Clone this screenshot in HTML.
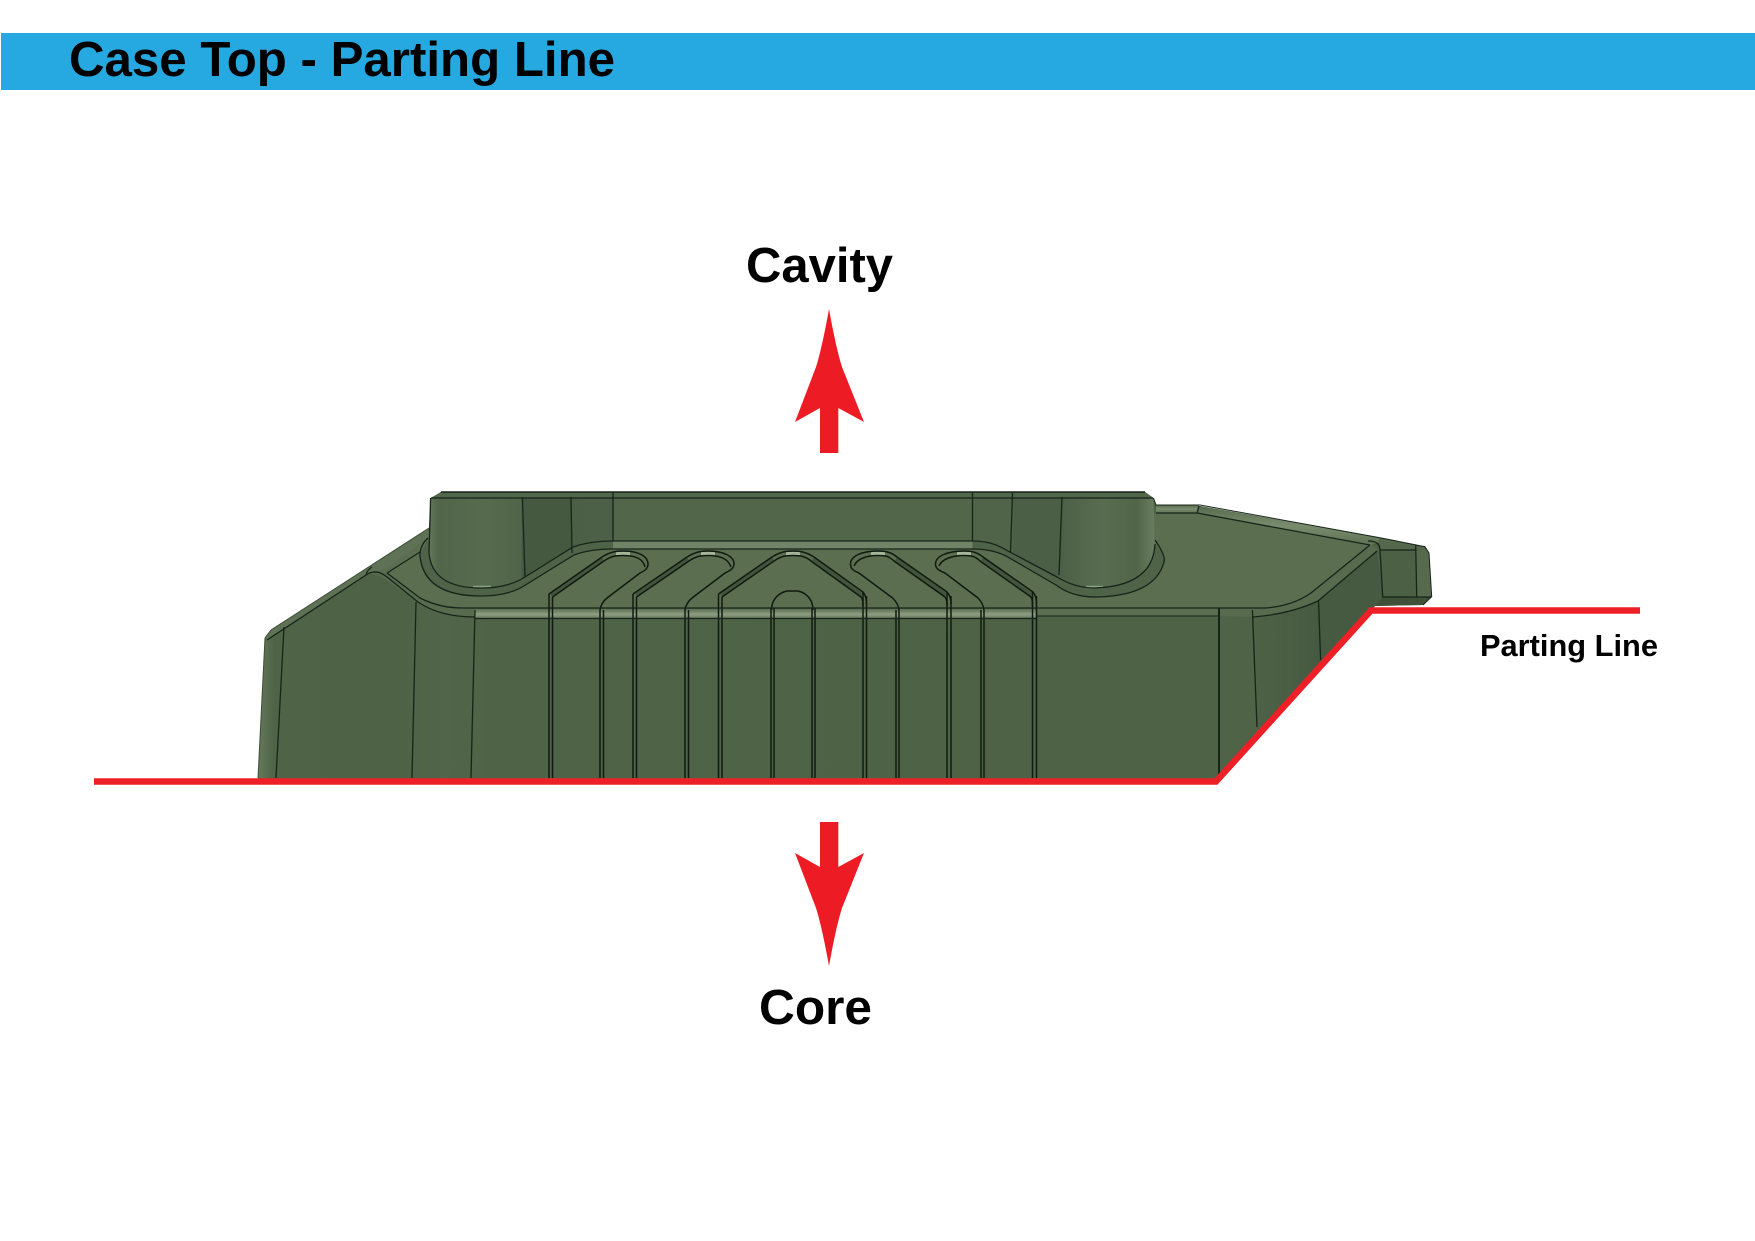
<!DOCTYPE html>
<html>
<head>
<meta charset="utf-8">
<style>
html,body{margin:0;padding:0;background:#fff;width:1755px;height:1241px;overflow:hidden}
svg{display:block}
text{font-family:"Liberation Sans",Arial,sans-serif;font-weight:bold;fill:#000}
.l{fill:none;stroke:#17241a;stroke-width:1.3}
.t{fill:none;stroke:#0f1a10;stroke-width:1.5}
</style>
</head>
<body>
<svg width="1755" height="1241" viewBox="0 0 1755 1241" xmlns="http://www.w3.org/2000/svg">
<defs>
<linearGradient id="bossL" x1="0" x2="1" y1="0" y2="0">
<stop offset="0" stop-color="#64785a"/><stop offset=".05" stop-color="#51664a"/><stop offset=".3" stop-color="#566b4e"/><stop offset=".5" stop-color="#506549"/><stop offset=".505" stop-color="#455941"/><stop offset=".77" stop-color="#455941"/><stop offset=".775" stop-color="#4a5f46"/><stop offset="1" stop-color="#4c6047"/>
</linearGradient>
<linearGradient id="bossR" x1="0" x2="1" y1="0" y2="0">
<stop offset="0" stop-color="#4f6449"/><stop offset=".22" stop-color="#4f6449"/><stop offset=".225" stop-color="#4a5f46"/><stop offset=".49" stop-color="#4a5f46"/><stop offset=".5" stop-color="#4c6147"/><stop offset=".71" stop-color="#586d50"/><stop offset=".9" stop-color="#516649"/><stop offset="1" stop-color="#6a7d60"/>
</linearGradient>
<linearGradient id="front" x1="0" x2="1" y1="0" y2="0">
<stop offset="0" stop-color="#64785a"/><stop offset=".014" stop-color="#4f6347"/><stop offset=".12" stop-color="#4e6246"/><stop offset=".16" stop-color="#51654a"/><stop offset=".2" stop-color="#4f6347"/><stop offset="1" stop-color="#4e6246"/>
</linearGradient>
<linearGradient id="band" x1="0" x2="0" y1="0" y2="1">
<stop offset="0" stop-color="#5d7052"/><stop offset=".55" stop-color="#8e9e83"/><stop offset="1" stop-color="#5a6d50"/>
</linearGradient>
<linearGradient id="rsd" x1="0" x2="1" y1="0" y2="0">
<stop offset="0" stop-color="#4e6246"/><stop offset="1" stop-color="#455a41"/>
</linearGradient>
<linearGradient id="rim" x1="0" x2="0" y1="0" y2="1">
<stop offset="0" stop-color="#566a4c"/><stop offset=".5" stop-color="#7a8c6e"/><stop offset="1" stop-color="#5f7254"/>
</linearGradient>
</defs>

<!-- banner -->
<rect x="1" y="33" width="1754" height="57" fill="#25a9e0"/>
<text x="69" y="76" font-size="49" textLength="546" lengthAdjust="spacingAndGlyphs">Case Top - Parting Line</text>

<!-- labels -->
<text x="746" y="282" font-size="48.7" textLength="147" lengthAdjust="spacingAndGlyphs">Cavity</text>
<text x="759" y="1024" font-size="48.7" textLength="113" lengthAdjust="spacingAndGlyphs">Core</text>
<text x="1480" y="656" font-size="30.8" textLength="178" lengthAdjust="spacingAndGlyphs">Parting Line</text>

<!-- arrows -->
<path fill="#ed1c24" d="M829,309 Q836,348 842,367 L864,422 L838.3,408 V453 H820 V408 L795,422 L816,367 Q822,348 829,309 Z"/>
<path fill="#ed1c24" d="M829,966 Q836,927 842,908 L864,853 L838.3,867 V822 H820 V867 L795,853 L816,908 Q822,927 829,966 Z"/>

<!-- body silhouette -->
<path fill="url(#front)" d="M258,780 L265,638 L271,630 L429,528 L430.6,498 L441,492 L1145,492 L1153.5,498 L1156,505 L1200,506 L1380,537.7 L1425,546.7 L1429,553 L1431.7,596.7 L1423,605 L1375,606 L1217,780 Z"/>

<!-- right side faces -->
<path fill="#4f6347" d="M1219,616 H1253 L1258,728 L1219,775 Z"/>
<path fill="url(#rsd)" d="M1253,617 Q1290,614 1318,601 L1321,664 L1258,730 Z"/>
<path fill="#455a41" d="M1318,601 L1377,551 L1383,597 L1375,606 L1321,664 Z"/>

<!-- end tab -->
<path fill="#4c6046" d="M1380,550 H1416 L1417,597 H1383 Z"/>
<path fill="#576a4e" d="M1416,550 L1429,553 L1431.7,597 H1417 Z"/>
<path fill="#3f5139" d="M1383,597 H1431 L1423,605 L1375,606 Z"/>

<!-- top face -->
<path fill="#5c6e50" d="M429,530 L372,568 L387,573 L420,598 Q440,608 462,608 H1266 Q1292,606 1311,593 L1372,545 L1197,513 H1156 L1130,520 H430 Z"/>

<!-- lit rim, upper right -->
<path fill="url(#rim)" d="M1156,505 H1199 L1197,513 H1156 Z"/>
<path fill="url(#rim)" d="M1200,506 L1380,537.7 L1378,543 L1371,545 L1197,513 Z"/>
<path fill="#55684b" d="M1380,537.7 L1425,546.7 L1429,553 L1415,550 H1380 Z"/>
<!-- lit rim, right fillet -->
<path fill="#586b4e" d="M1372,545 L1311,593 Q1292,606 1266,608 L1219,608 V616 L1253,617 Q1290,614 1318,601 L1378,550 Z"/>

<!-- left chamfer rim -->
<path fill="#5f7255" d="M271,630 L429,528 L431,536 L387,568 L366,575 L267,640 L265,638 Z"/>
<path fill="#586b4e" d="M366,575 Q376,568 387,573 L420,598 Q440,608 462,608 L475,609 V617 Q440,617 418,602 L382,577 Q374,573 366,575 Z"/>

<!-- front band -->
<rect x="475" y="609" width="561" height="10" fill="url(#band)"/>
<rect x="1036" y="608" width="183" height="8" fill="#5c6e50"/>

<!-- back wall -->
<rect x="613" y="498" width="360" height="43" fill="#526749"/>
<path fill="#52664a" d="M441,492 H1145 L1153.5,498 H431 Z"/>
<rect x="613" y="541" width="360" height="8" fill="#728467"/>

<!-- bosses -->
<path fill="url(#bossL)" d="M430.6,498 L429,553 Q432,588 481,588 Q508,588 525,577 L573,547 Q590,541 613,541 V498 Z"/>
<path fill="url(#bossR)" d="M972.5,498 V541 Q992,541 1006,550 L1057,577 Q1075,588 1095,588 Q1153,586 1155,555 L1153.5,498 Z"/>
<!-- boss fillet bands -->
<path fill="#4f6348" d="M429,553 Q432,588 481,588 Q508,588 525,577 L573,547 Q590,541 613,541 V549 Q590,549 574,555 L527,584 Q510,596 481,596 Q420,594 420,556 L428,538 Z"/>
<path fill="#4f6348" d="M972.5,541 Q992,541 1006,550 L1057,577 Q1075,588 1095,588 Q1153,586 1155,544 Q1166,556 1164,562 Q1155,596 1095,597 Q1072,597 1056,585 L1006,556 Q992,549 972.5,549 Z"/>

<!-- slot dark strips and lit tops -->
<path stroke="#42553c" stroke-width="3.6" fill="none" d="M551,595 L603,559 M636,595 L688,559 M721,595 L773,559 M813,559 L862,595 M896,559 L946,595 M982,559 L1032,595"/>
<path stroke="#a7b69a" stroke-width="3.6" fill="none" d="M616,553.5 H630 M701,553.5 H715 M786,553.5 H800 M871,553.5 H885 M957,553.5 H971"/>
<path stroke="#8fa084" stroke-width="2.5" fill="none" d="M473,587 H491 M1086,587 H1103"/>

<!-- verticals -->
<g class="t">
<path d="M549,594 V778 M552.5,597 V778"/>
<path d="M600,610 V778 M603.5,610 V778"/>
<path d="M633,594 V778 M636.5,597 V778"/>
<path d="M685,610 V778 M688.5,610 V778"/>
<path d="M718.5,594 V778 M722,597 V778"/>
<path d="M771,608 V778 M774,608 V778"/>
<path d="M812,608 V778 M815,608 V778"/>
<path d="M863,592 V778 M866.5,596 V778"/>
<path d="M896,610 V778 M899,610 V778"/>
<path d="M947,592 V778 M951,596 V778"/>
<path d="M981,610 V778 M984,610 V778"/>
<path d="M1032.5,592 V778 M1036.5,596 V778"/>
</g>

<!-- slot outlines -->
<g class="t">
<path d="M549,594 L602,557 C610,552 616,551 623,551 C638,551 648,556 648,564 C648,569 644,571 640,573 L607,598 Q601,603 600,610"/>
<path d="M552.5,597 L604,561 C611,556 616,555.5 623,555.5 C636,555.5 643,559 645,567"/>
<path d="M633,594 L687,557 C695,552 701,551 708,551 C723,551 734,556 734,564 C734,569 729,571 725,573 L692,598 Q686,603 685,610"/>
<path d="M636.5,597 L689,561 C696,556 701,555.5 708,555.5 C721,555.5 728,559 731,567"/>
<path d="M718.5,594 L772,557 C780,552 786,551 793,551 C800,551 806,552 814,557 L863,592 Q866.5,596 866.5,604"/>
<path d="M722,597 L774,561 C781,556 786,555.5 793,555.5 C800,555.5 805,556 811,561 L861,597 Q863,599 863,606"/>
<path d="M771.5,610 C771.5,600 778,593 787,591 H798 C807,593 813,600 813,610"/>
<path d="M899,610 Q898,603 892.6,598 L859,573 C854,571 850.5,569 850.5,564 C850.5,556 862,551 878,551 C885,551 891,552 897,557 L947,592 Q951,596 951,604"/>
<path d="M854,566 C857,559 866,555.5 878,555.5 C885,555.5 889,556 894,561 L945,597 Q947,599 947,606"/>
<path d="M984,610 Q983,603 978,598 L945,573 C940,571 935.5,569 935.5,564 C935.5,556 948,551 964,551 C971,551 977,552 983,557 L1033,592 Q1036.5,596 1036.5,604"/>
<path d="M939,566 C942,559 952,555.5 964,555.5 C971,555.5 975,556 980,561 L1031,597 Q1032.5,599 1032.5,606"/>
</g>

<!-- horizontals & body edges -->
<g class="l">
<path d="M462,608 H1266"/>
<path d="M475,618.5 H1036"/>
<path d="M1036,616 H1219" stroke-width="1"/>
<path d="M613,541 H973"/>
<path d="M613,549 H973"/>
<path d="M431,498 H1153"/>
<path d="M441,492 H1145" stroke-width="1.5"/>
<path d="M429,528 L271,630 L265,638 L258,778" stroke="#3d4f39" stroke-width="1"/>
<path d="M267,640 L366,575 Q376,568 387,577 L418,602 Q440,617 475,617"/>
<path d="M387,573 L420,552"/>
<path d="M387,573 L420,598 Q440,608 462,608"/>
<path d="M366,575 Q367,570 372,567"/>
<path d="M284,627 L276,778"/>
<path d="M416,602 L412,778"/>
<path d="M475,610 L471,778"/>
<path d="M1219,608 V775" stroke-width="2"/>
<path d="M1252.4,610 L1257,727"/>
<path d="M1318.5,600 L1320.6,660"/>
<path d="M522.4,497 L525,577"/>
<path d="M571,497 L572,553"/>
<path d="M613,492 V541"/>
<path d="M972.5,492 V541"/>
<path d="M1012.5,493 L1010.5,553"/>
<path d="M1062,497 L1059,575"/>
<path d="M430.6,498 L429,553 Q432,588 481,588 Q508,588 525,577 L573,547 Q590,541 613,541"/>
<path d="M428,538 Q420,545 420,556 Q424,596 481,596 Q510,596 527,584 L574,555 Q590,549 613,549"/>
<path d="M972.5,541 Q992,541 1006,550 L1057,577 Q1075,588 1095,588 Q1153,586 1155,544"/>
<path d="M972.5,549 Q992,549 1006,556 L1056,585 Q1072,597 1095,597 Q1155,596 1164,562 Q1166,556 1155,540"/>
<path d="M1153.5,498 L1156,505 H1200 L1380,537.7 L1425,546.7 L1429,553 L1431.7,596.7 L1423,605" stroke-width="1"/>
<path d="M1156,513 H1197 L1370,545"/>
<path d="M1199,506 L1197,513"/>
<path d="M1266,608 Q1292,606 1311,593 L1370,545"/>
<path d="M1253,617 Q1290,614 1318,601 L1377,551"/>
<path d="M1368,541 Q1380,541 1380,550 L1382.7,596.7"/>
<path d="M1380,550 H1416"/>
<path d="M1415.7,545 L1416.7,596.7"/>
<path d="M1382,597 H1431"/>
</g>

<!-- parting line -->
<path d="M94,781.5 H1216 L1371,610.5 H1640" fill="none" stroke="#ed2028" stroke-width="6.5" stroke-linejoin="miter"/>
</svg>
</body>
</html>
